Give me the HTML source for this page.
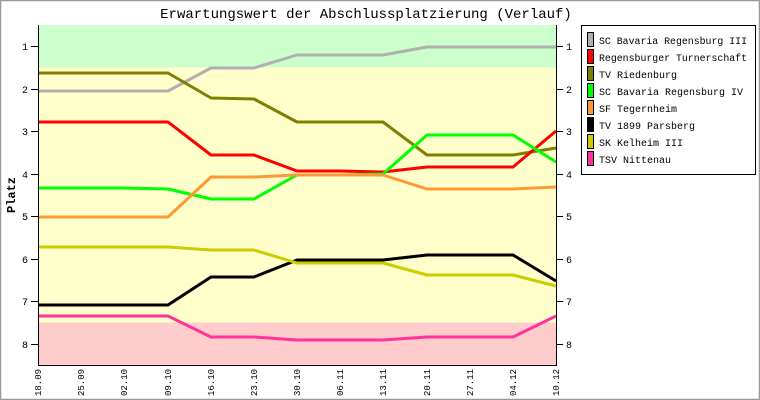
<!DOCTYPE html>
<html><head><style>
body{margin:0;background:#fff}
svg{display:block}
text{font-family:"Liberation Mono","DejaVu Sans Mono",monospace}
</style></head><body>
<svg width="760" height="400" viewBox="0 0 760 400" xmlns="http://www.w3.org/2000/svg">
<rect x="0.5" y="0.5" width="759" height="399" fill="#fff" stroke="#999" stroke-width="1.5"/>
<text x="366" y="18" font-size="14" text-anchor="middle">Erwartungswert der Abschlussplatzierung (Verlauf)</text>
<rect x="38" y="25" width="518" height="42.5" fill="#ccffcc"/>
<rect x="38" y="67.5" width="518" height="255" fill="#ffffcc"/>
<rect x="38" y="322.5" width="518" height="42.5" fill="#ffcccc"/>
<g fill="none" stroke-width="3" stroke-linejoin="bevel">
<polyline stroke="#b0b0b0" points="38,91 81,91 124,91 168,91 211,68 254,68 297,55 340,55 383,55 427,47 470,47 513,47 556,47"/>
<polyline stroke="#808000" points="38,73 81,73 124,73 168,73 211,98 254,99 297,122 340,122 383,122 427,155 470,155 513,155 556,148"/>
<polyline stroke="#ff0000" points="38,122 81,122 124,122 168,122 211,155 254,155 297,171 340,171 383,172 427,167 470,167 513,167 556,131"/>
<polyline stroke="#00ff00" points="38,188 81,188 124,188 168,189 211,199 254,199 297,175 340,175 383,174 427,135 470,135 513,135 556,162"/>
<polyline stroke="#ff9933" points="38,217 81,217 124,217 168,217 211,177 254,177 297,175 340,175 383,175 427,189 470,189 513,189 556,187"/>
<polyline stroke="#000000" points="38,305 81,305 124,305 168,305 211,277 254,277 297,260 340,260 383,260 427,255 470,255 513,255 556,281"/>
<polyline stroke="#cccc00" points="38,247 81,247 124,247 168,247 211,250 254,250 297,263 340,263 383,263 427,275 470,275 513,275 556,286"/>
<polyline stroke="#ff3399" points="38,316 81,316 124,316 168,316 211,337 254,337 297,340 340,340 383,340 427,337 470,337 513,337 556,316"/>
</g>
<g stroke="#000" stroke-width="1">
<line x1="38.5" y1="25" x2="38.5" y2="365"/>
<line x1="556.5" y1="25" x2="556.5" y2="365"/>
<line x1="38" y1="365.5" x2="557" y2="365.5"/>
<path d="M31,46.5h7M31,89.5h7M31,131.5h7M31,174.5h7M31,216.5h7M31,259.5h7M31,301.5h7M31,344.5h7"/>
<path d="M557,46.5h6M557,89.5h6M557,131.5h6M557,174.5h6M557,216.5h6M557,259.5h6M557,301.5h6M557,344.5h6"/>
</g>
<g font-size="10" text-anchor="middle">
<text x="25" y="50">1</text><text x="25" y="93">2</text><text x="25" y="135">3</text><text x="25" y="178">4</text><text x="25" y="220">5</text><text x="25" y="263">6</text><text x="25" y="305">7</text><text x="25" y="348">8</text>
<text x="569" y="50">1</text><text x="569" y="93">2</text><text x="569" y="135">3</text><text x="569" y="178">4</text><text x="569" y="220">5</text><text x="569" y="263">6</text><text x="569" y="305">7</text><text x="569" y="348">8</text>
</g>
<text transform="translate(15,195) rotate(-90)" font-size="12" font-weight="bold" text-anchor="middle">Platz</text>
<g font-size="9">
<text transform="translate(41,396) rotate(-90)">18.09</text>
<text transform="translate(84,396) rotate(-90)">25.09</text>
<text transform="translate(127,396) rotate(-90)">02.10</text>
<text transform="translate(171,396) rotate(-90)">09.10</text>
<text transform="translate(214,396) rotate(-90)">16.10</text>
<text transform="translate(257,396) rotate(-90)">23.10</text>
<text transform="translate(300,396) rotate(-90)">30.10</text>
<text transform="translate(343,396) rotate(-90)">06.11</text>
<text transform="translate(386,396) rotate(-90)">13.11</text>
<text transform="translate(430,396) rotate(-90)">20.11</text>
<text transform="translate(473,396) rotate(-90)">27.11</text>
<text transform="translate(516,396) rotate(-90)">04.12</text>
<text transform="translate(559,396) rotate(-90)">10.12</text>
</g>
<rect x="581.5" y="25.5" width="174" height="149" fill="#fff" stroke="#000"/>
<g stroke="#000" stroke-width="1">
<rect x="587.5" y="32.5" width="6" height="14" fill="#b0b0b0"/>
<rect x="587.5" y="49.5" width="6" height="14" fill="#ff0000"/>
<rect x="587.5" y="66.5" width="6" height="14" fill="#808000"/>
<rect x="587.5" y="83.5" width="6" height="14" fill="#00ff00"/>
<rect x="587.5" y="100.5" width="6" height="14" fill="#ff9933"/>
<rect x="587.5" y="117.5" width="6" height="14" fill="#000000"/>
<rect x="587.5" y="134.5" width="6" height="14" fill="#cccc00"/>
<rect x="587.5" y="151.5" width="6" height="14" fill="#ff3399"/>
</g>
<g font-size="10">
<text x="599" y="44" textLength="148" lengthAdjust="spacingAndGlyphs">SC Bavaria Regensburg III</text>
<text x="599" y="61" textLength="148" lengthAdjust="spacingAndGlyphs">Regensburger Turnerschaft</text>
<text x="599" y="78">TV Riedenburg</text>
<text x="599" y="95">SC Bavaria Regensburg IV</text>
<text x="599" y="112">SF Tegernheim</text>
<text x="599" y="129">TV 1899 Parsberg</text>
<text x="599" y="146">SK Kelheim III</text>
<text x="599" y="163">TSV Nittenau</text>
</g>
</svg>
</body></html>
